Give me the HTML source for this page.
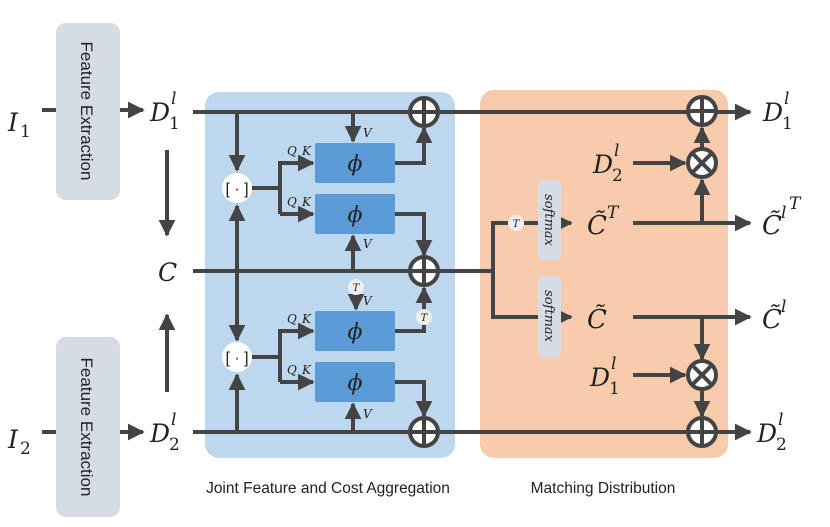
<!DOCTYPE html>
<html><head><meta charset="utf-8"><style>
html,body{margin:0;padding:0;background:#fff;}
svg{display:block;}
.m{font-family:"DejaVu Serif","Liberation Serif",serif;font-style:italic;fill:#222;}
.s{font-family:"Liberation Sans",sans-serif;fill:#222;}
</style></head><body>
<svg width="830" height="527" viewBox="0 0 830 527" xmlns="http://www.w3.org/2000/svg">
<defs>
<marker id="a" viewBox="0 0 10 10" refX="9" refY="5" markerWidth="4.2" markerHeight="4.2" orient="auto"><path d="M0,0L10,5L0,10z" fill="#444"/></marker>
</defs>
<rect x="205" y="92" width="250" height="366" rx="14" fill="#bdd7ee"/>
<rect x="480" y="90" width="248" height="368" rx="14" fill="#f8cbad"/>
<rect x="56" y="23" width="64" height="177" rx="10" fill="#d6dce5"/>
<rect x="56" y="337" width="64" height="180" rx="10" fill="#d6dce5"/>
<text class="s" font-size="17" transform="translate(81,111) rotate(90)" text-anchor="middle">Feature Extraction</text>
<text class="s" font-size="17" transform="translate(81,427) rotate(90)" text-anchor="middle">Feature Extraction</text>
<g stroke="#444" stroke-width="4" fill="none">
<line x1="42" y1="110" x2="56" y2="110"/>
<line x1="120" y1="110" x2="143" y2="110" marker-end="url(#a)"/>
<line x1="42" y1="432" x2="56" y2="432"/>
<line x1="120" y1="432" x2="143" y2="432" marker-end="url(#a)"/>
<line x1="167" y1="150" x2="167" y2="235" marker-end="url(#a)"/>
<line x1="167" y1="392" x2="167" y2="315" marker-end="url(#a)"/>
<line x1="193" y1="112" x2="750" y2="112" marker-end="url(#a)"/>
<line x1="193" y1="271" x2="493" y2="271"/>
<line x1="193" y1="432" x2="750" y2="432" marker-end="url(#a)"/>
<line x1="237" y1="112" x2="237" y2="170" marker-end="url(#a)"/>
<line x1="237" y1="340" x2="237" y2="206" marker-end="url(#a)"/>
<line x1="237" y1="206" x2="237" y2="340" marker-end="url(#a)"/>
<line x1="237" y1="432" x2="237" y2="375" marker-end="url(#a)"/>
<polyline points="252,188 280,188 280,163 313,163" marker-end="url(#a)"/>
<line x1="280" y1="188" x2="280" y2="214"/><line x1="280" y1="214" x2="313" y2="214" marker-end="url(#a)"/>
<polyline points="252,357 280,357 280,331 313,331" marker-end="url(#a)"/>
<line x1="280" y1="357" x2="280" y2="382"/><line x1="280" y1="382" x2="313" y2="382" marker-end="url(#a)"/>
<line x1="353" y1="112" x2="353" y2="141" marker-end="url(#a)"/>
<line x1="353" y1="271" x2="353" y2="236" marker-end="url(#a)"/>
<line x1="356" y1="294" x2="356" y2="309" marker-end="url(#a)"/>
<line x1="353" y1="432" x2="353" y2="404" marker-end="url(#a)"/>
<polyline points="395,163 424,163 424,128" marker-end="url(#a)"/>
<polyline points="395,214 424,214 424,255" marker-end="url(#a)"/>
<polyline points="395,331 424,331 424,288" marker-end="url(#a)"/>
<polyline points="395,382 424,382 424,416" marker-end="url(#a)"/>
<polyline points="493,271 493,223 508,223"/>
<line x1="524" y1="223" x2="571" y2="223" marker-end="url(#a)"/>
<polyline points="493,271 493,317 571,317" marker-end="url(#a)"/>
<line x1="633" y1="223" x2="750" y2="223" marker-end="url(#a)"/>
<line x1="633" y1="317" x2="750" y2="317" marker-end="url(#a)"/>
<line x1="702" y1="223" x2="702" y2="180" marker-end="url(#a)"/>
<line x1="702" y1="148" x2="702" y2="128" marker-end="url(#a)"/>
<line x1="633" y1="163" x2="685" y2="163" marker-end="url(#a)"/>
<line x1="702" y1="317" x2="702" y2="359" marker-end="url(#a)"/>
<line x1="633" y1="375" x2="685" y2="375" marker-end="url(#a)"/>
<line x1="702" y1="391" x2="702" y2="416" marker-end="url(#a)"/>
</g>
<g fill="#5b9bd5">
<rect x="315" y="143" width="80" height="40" rx="2"/>
<rect x="315" y="194" width="80" height="40" rx="2"/>
<rect x="315" y="311" width="80" height="40" rx="2"/>
<rect x="315" y="362" width="80" height="40" rx="2"/>
</g>
<g class="m" font-size="22" text-anchor="middle">
<text x="355" y="171">ϕ</text><text x="355" y="222">ϕ</text><text x="355" y="339">ϕ</text><text x="355" y="390">ϕ</text>
</g>
<g class="m" font-size="12">
<text x="287" y="155">Q</text><text x="302" y="155">K</text>
<text x="287" y="206">Q</text><text x="302" y="206">K</text>
<text x="287" y="323">Q</text><text x="302" y="323">K</text>
<text x="287" y="374">Q</text><text x="302" y="374">K</text>
<text x="363" y="137">V</text><text x="363" y="248">V</text><text x="363" y="305">V</text><text x="363" y="418">V</text>
</g>
<circle cx="237" cy="188" r="15" fill="#fff"/><circle cx="237" cy="357" r="15" fill="#fff"/>
<text x="237" y="194" class="s" font-size="16" text-anchor="middle">[ · ]</text>
<text x="237" y="363" class="s" font-size="16" text-anchor="middle">[ · ]</text>
<g fill="#eee"><circle cx="356" cy="287" r="8"/><circle cx="424" cy="317" r="8"/><circle cx="516" cy="223" r="8"/></g>
<g class="m" font-size="10" text-anchor="middle"><text x="356" y="291">T</text><text x="424" y="321">T</text><text x="516" y="227">T</text></g>
<g stroke="#444" stroke-width="4" fill="#fff">
<circle cx="424" cy="112" r="14"/><circle cx="424" cy="271" r="14"/><circle cx="424" cy="432" r="14"/>
<circle cx="702" cy="111" r="14"/><circle cx="702" cy="432" r="14"/>
<circle cx="702" cy="163" r="14"/><circle cx="702" cy="375" r="14"/>
</g>
<g stroke="#444" stroke-width="4">
<path d="M410,112H438M424,98V126M410,271H438M424,257V285M410,432H438M424,418V446M688,111H716M702,97V125M688,432H716M702,418V446"/>
<path d="M692,153L712,173M712,153L692,173M692,365L712,385M712,365L692,385"/>
</g>
<rect x="538" y="180" width="23" height="80" rx="4" fill="#d6dce5"/>
<rect x="538" y="276" width="23" height="81" rx="4" fill="#d6dce5"/>
<text class="m" font-size="13" transform="translate(545,220) rotate(90)" text-anchor="middle">softmax</text>
<text class="m" font-size="13" transform="translate(545,316) rotate(90)" text-anchor="middle">softmax</text>
<g class="m" font-size="25">
<text x="8" y="131">I</text><text x="20" y="137" font-size="17" font-style="normal">1</text>
<text x="8" y="448">I</text><text x="20" y="454" font-size="17" font-style="normal">2</text>
<text x="150" y="121">D</text><text x="171" y="104" font-size="17">l</text><text x="169" y="129" font-size="17" font-style="normal">1</text>
<text x="150" y="442">D</text><text x="171" y="425" font-size="17">l</text><text x="169" y="450" font-size="17" font-style="normal">2</text>
<text x="158" y="281">C</text>
<text x="593" y="173">D</text><text x="614" y="156" font-size="17">l</text><text x="612" y="181" font-size="17" font-style="normal">2</text>
<text x="590" y="386">D</text><text x="611" y="369" font-size="17">l</text><text x="609" y="394" font-size="17" font-style="normal">1</text>
<text x="587" y="234" font-size="26">C̃</text><text x="607" y="218" font-size="17">T</text>
<text x="587" y="328" font-size="26">C̃</text>
<text x="763" y="121">D</text><text x="784" y="104" font-size="17">l</text><text x="782" y="129" font-size="17" font-style="normal">1</text>
<text x="757" y="442">D</text><text x="778" y="425" font-size="17">l</text><text x="776" y="450" font-size="17" font-style="normal">2</text>
<text x="762" y="234" font-size="26">C̃</text><text x="781" y="218" font-size="17">l</text><text x="789" y="209" font-size="17">T</text>
<text x="762" y="328" font-size="26">C̃</text><text x="781" y="312" font-size="17">l</text>
</g>
<text x="328" y="493" class="s" font-size="15.5" text-anchor="middle">Joint Feature and Cost Aggregation</text>
<text x="603" y="493" class="s" font-size="15.5" text-anchor="middle">Matching Distribution</text>
</svg>
</body></html>
